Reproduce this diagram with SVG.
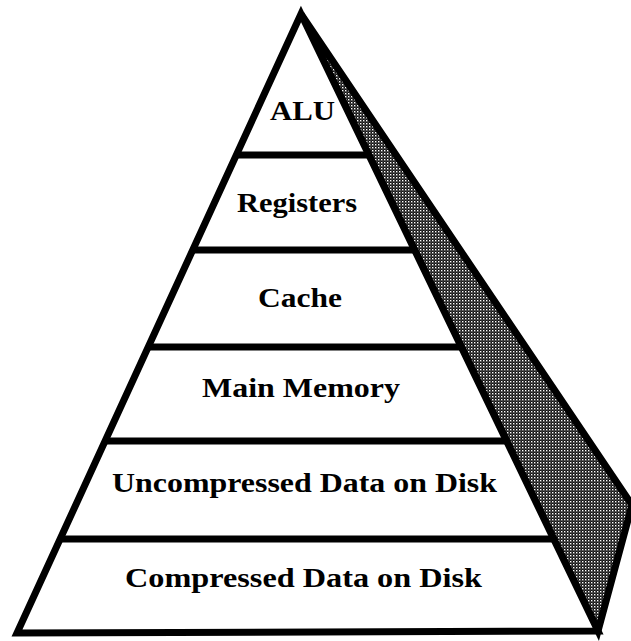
<svg xmlns="http://www.w3.org/2000/svg" width="631" height="641" viewBox="0 0 631 641">
  <defs>
    <pattern id="dots" width="3" height="3" patternUnits="userSpaceOnUse">
      <rect width="3" height="3" fill="#111"/>
      <rect x="0" y="0" width="1.4" height="1.4" fill="#fff"/>
      <rect x="1.5" y="1.5" width="1" height="1" fill="#999"/>
    </pattern>
  </defs>
  <style>
    .edge { stroke: #000; stroke-width: 7; stroke-linejoin: miter; }
    .shade { fill: url(#dots); }
    .face { fill: #fff; }
    .sep { stroke: #000; stroke-width: 7; }
    .lbl { font-family: "Liberation Serif", "Times New Roman", serif; font-weight: bold; font-size: 28px; fill: #000; text-anchor: middle; }
  </style>
  <rect width="631" height="641" fill="#fff"/>
  <g id="pyramid-shape">
    <polygon class="edge shade" points="301,14 632,505 598,631"/>
    <polygon class="edge face" points="301,14 17,633 598,631"/>
  </g>
  <g id="separators">
    <line class="sep" x1="236.3" y1="155" x2="368.9" y2="155"/>
    <line class="sep" x1="192.7" y1="250" x2="414.6" y2="250"/>
    <line class="sep" x1="148.2" y1="347" x2="461.3" y2="347"/>
    <line class="sep" x1="105.1" y1="441" x2="506.5" y2="441"/>
    <line class="sep" x1="60.1" y1="539" x2="553.7" y2="539"/>
  </g>
  <g id="tier-alu"><text class="lbl" x="302.5" y="120" textLength="65" lengthAdjust="spacingAndGlyphs">ALU</text></g>
  <g id="tier-registers"><text class="lbl" x="297" y="212" textLength="120" lengthAdjust="spacingAndGlyphs">Registers</text></g>
  <g id="tier-cache"><text class="lbl" x="300" y="307" textLength="84" lengthAdjust="spacingAndGlyphs">Cache</text></g>
  <g id="tier-main-memory"><text class="lbl" x="301" y="397" textLength="198" lengthAdjust="spacingAndGlyphs">Main Memory</text></g>
  <g id="tier-uncompressed"><text class="lbl" x="304.5" y="492" textLength="385" lengthAdjust="spacingAndGlyphs">Uncompressed Data on Disk</text></g>
  <g id="tier-compressed"><text class="lbl" x="303.5" y="587" textLength="357" lengthAdjust="spacingAndGlyphs">Compressed Data on Disk</text></g>
  <g id="connectors"/>
</svg>
